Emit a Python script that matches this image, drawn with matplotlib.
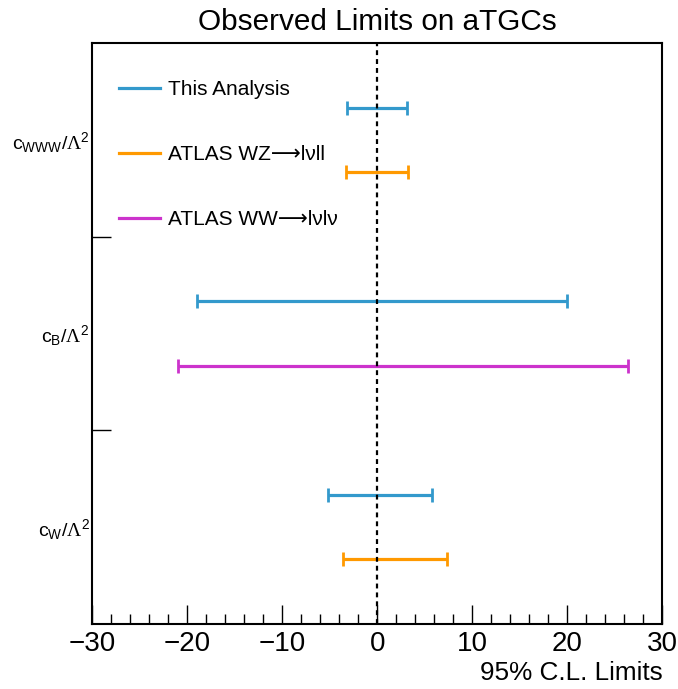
import matplotlib
matplotlib.use("Agg")
import matplotlib.pyplot as plt
from matplotlib.lines import Line2D
from matplotlib.ticker import MultipleLocator

plt.rcParams['font.family'] = ['Liberation Sans', 'DejaVu Sans']
plt.rcParams['mathtext.fontset'] = 'custom'
plt.rcParams['mathtext.rm'] = 'Liberation Serif'
plt.rcParams['mathtext.sf'] = 'Liberation Sans'
plt.rcParams['axes.unicode_minus'] = True

# Couplings (top to bottom) and their labels
couplings = [r'$\mathsf{c_{WWW}/}\Lambda^{\mathsf{2}}$',
             r'$\mathsf{c_{B}/}\Lambda^{\mathsf{2}}$',
             r'$\mathsf{c_{W}/}\Lambda^{\mathsf{2}}$']

# Series: names, colours, and (coupling index, slot in band, lower, upper)
series_names = ['This Analysis', 'ATLAS WZ\u27f6l\u03bdll', 'ATLAS WW\u27f6l\u03bdl\u03bd']
series_colors = ['#3399cc', '#ff9900', '#cc33cc']

this_coupling = [0, 1, 2]
this_slot = [1, 1, 1]
this_low = [-3.2, -19.0, -5.2]
this_high = [3.15, 20.0, 5.8]

wz_coupling = [0, 2]
wz_slot = [2, 2]
wz_low = [-3.3, -3.6]
wz_high = [3.25, 7.3]

ww_coupling = [1]
ww_slot = [2]
ww_low = [-21.0]
ww_high = [26.4]

x_range = (-30, 30)

fig = plt.figure(figsize=(6.78, 6.89), dpi=100)
ax = fig.add_axes([0.1361, 0.0943, 0.841, 0.8433])

band = 3
def draw(coup, slot, low, high, color):
    for c, s, lo, hi in zip(coup, slot, low, high):
        y = c * band + s
        mid = 0.5 * (lo + hi)
        ax.errorbar([mid], [y], xerr=[[mid - lo], [hi - mid]], fmt='none',
                    ecolor=color, elinewidth=2.3, capsize=4.8, capthick=2.0,
                    zorder=3)

draw(this_coupling, this_slot, this_low, this_high, series_colors[0])
draw(wz_coupling, wz_slot, wz_low, wz_high, series_colors[1])
draw(ww_coupling, ww_slot, ww_low, ww_high, series_colors[2])

ax.axvline(0, color='black', lw=1.6, ls=(0, (2.2, 1.8)), zorder=4)

ax.set_xlim(*x_range)
ax.set_ylim(band * len(couplings), 0)

ax.xaxis.set_major_locator(MultipleLocator(10))
ax.xaxis.set_minor_locator(MultipleLocator(2))
ax.tick_params(axis='x', which='major', direction='in', length=14, width=1.0,
               labelsize=20, pad=5)
ax.tick_params(axis='x', which='minor', direction='in', length=7, width=1.0)

ax.set_yticks([band * i for i in range(1, len(couplings))])
ax.set_yticks([band * i + band / 2 for i in range(len(couplings))],
              labels=couplings, minor=True)
ax.tick_params(axis='y', which='major', direction='in', length=14, width=1.0,
               labelleft=False)
ax.tick_params(axis='y', which='minor', length=0, labelsize=14, pad=2)

for sp in ax.spines.values():
    sp.set_linewidth(1.5)

ax.set_title('Observed Limits on aTGCs', fontsize=21.4, pad=9)
ax.set_xlabel('95% C.L. Limits', fontsize=18.8, loc='right', labelpad=3)

handles = [Line2D([], [], color=c, lw=2.3) for c in series_colors]
ax.legend(handles, series_names, loc='upper left', bbox_to_anchor=(0.047, 0.936),
          frameon=False, fontsize=15, handlelength=1.95, handletextpad=0.4,
          labelspacing=2.2, borderpad=0, borderaxespad=0)

fig.savefig('out.png', dpi=100)
